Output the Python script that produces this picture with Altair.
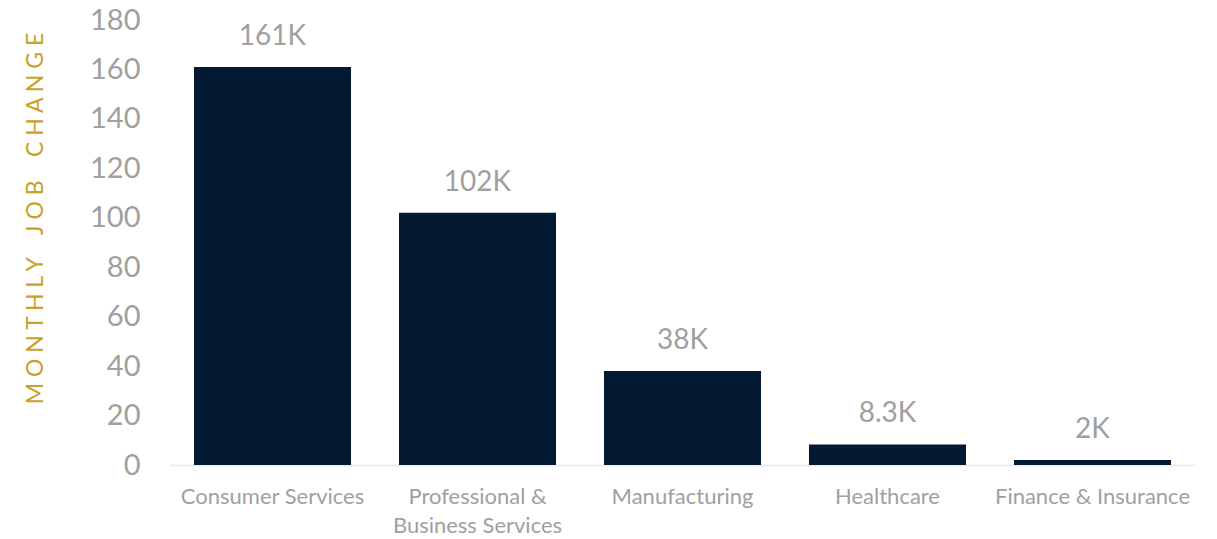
import altair as alt
import pandas as pd

categories = ["Consumer Services", "Professional &|Business Services", "Manufacturing", "Healthcare", "Finance & Insurance"]
values = [161, 102, 38, 8.3, 2]
labels = ["161K", "102K", "38K", "8.3K", "2K"]
y_title = "MONTHLY JOB CHANGE"

df = pd.DataFrame({"cat": categories, "val": values, "lab": labels})

sp = "\u00a0"
spaced_title = sp.join(list(y_title)).replace(sp + " " + sp, sp * 4)

x = alt.X("cat:N", sort=categories, title=None,
          scale=alt.Scale(paddingInner=0.234, paddingOuter=0.117),
          axis=alt.Axis(labelAngle=0, labelFont="Lato", labelFontSize=22, labelColor="#a0a0a0",
                        labelPadding=21, ticks=False, domainColor="#ececec", domainWidth=2,
                        labelExpr="split(datum.label, '|')", labelLineHeight=29,
                        labelBaseline="top", labelLimit=0))
y = alt.Y("val:Q", scale=alt.Scale(domain=[0, 180]),
          axis=alt.Axis(values=list(range(0, 181, 20)), grid=False, domain=False, ticks=False,
                        labelFont="Lato", labelFontSize=29, labelColor="#a0a0a0", labelPadding=30,
                        title=spaced_title, titleFont="Lato",
                        titleFontSize=23, titleFontWeight="normal", titleColor="#c9a227",
                        titleAngle=270, titleAlign="center", titleBaseline="middle",
                        titleX=-135, titleY=198, titleLimit=0))

bars = alt.Chart(df).mark_bar(color="#041a33").encode(x=x, y=y)
text = alt.Chart(df).mark_text(font="Lato", fontSize=28, color="#a0a0a0", baseline="bottom", dy=-16).encode(
    x=alt.X("cat:N", sort=categories), y="val:Q", text="lab:N")

chart = alt.layer(bars, text).properties(
    width=1025, height=445,
    autosize=alt.AutoSizeParams(type="none"),
    padding={"left": 170, "top": 20, "right": 22, "bottom": 74},
).configure(background="white", view=alt.ViewConfig(stroke=None, strokeWidth=0))

chart.save("out.html", embed_options={"renderer": "svg", "actions": False})
